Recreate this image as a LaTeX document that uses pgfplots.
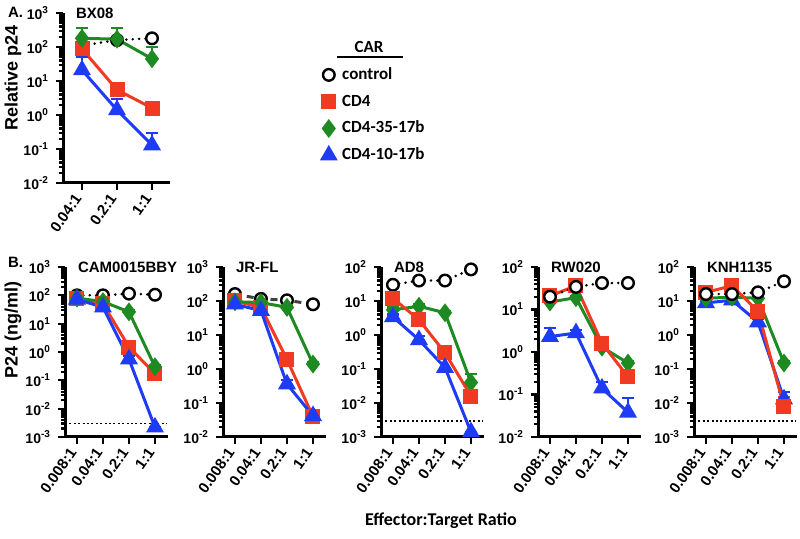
\documentclass[border=0pt]{standalone}
\usepackage{fontspec}
\setmainfont{Liberation Sans}
\newfontfamily\calfont{Carlito}
\usepackage{pgfplots}
\usepackage{pgfplotstable}
\pgfplotsset{compat=1.18}

\definecolor{cred}{RGB}{240,58,34}
\definecolor{cgreen}{RGB}{30,138,34}
\definecolor{cblue}{RGB}{30,60,245}

% columns: ratio index, control, CD4 (+err), CD4-35-17b (+err), CD4-10-17b (+err)
\pgfplotstableread{
x c r re g ge b be
0 110 88 15 180 180 21 29
1 160 5.5 1 170 190 1.4 1.6
2 180 1.6 0.8 45 55 0.13 0.17
}\bxeight
\pgfplotstableread{
x c r re g ge b be
0 100 75 10 80 10 72 10
1 100 50 8 60 8 38 8
2 115 1.5 0.7 26 4 0.56 0.15
3 105 0.17 0.08 0.3 0.05 0.0022 0
}\cam
\pgfplotstableread{
x c r re g ge b be
0 160 100 15 95 10 80 15
1 115 65 10 90 10 52 10
2 105 1.9 0.6 65 8 0.36 0.12
3 80 0.04 0.008 1.4 0.2 0.042 0.005
}\jrfl
\pgfplotstableread{
x c r re g ge b be
0 30 12 3 5.5 1 3.4 0.6
1 40 2.8 1 7 1 0.72 0.2
2 40 0.3 0.05 4.5 0.5 0.11 0.13
3 85 0.016 0.003 0.04 0.03 0.0014 0
}\adeight
\pgfplotstableread{
x c r re g ge b be
0 20 21 3 15 2 2.3 1.4
1 34 36 5 19 2 2.8 0.5
2 42 1.6 0.3 1.3 0.2 0.14 0.06
3 42 0.26 0.05 0.55 0.05 0.038 0.045
}\rw
\pgfplotstableread{
x c r re g ge b be
0 16 18 3 12 1 8.8 1
1 16 28 4 13 1 10.5 1
2 18 5 1 12 1 2.4 0.6
3 38 0.0078 0.007 0.15 0.02 0.013 0.008
}\knh

\newcommand{\lab}{\bfseries\fontsize{7.5}{9}\selectfont}
\newcommand{\tk}{\bfseries\fontsize{7}{8}\selectfont}
\newcommand{\ylab}{\bfseries\fontsize{9}{10}\selectfont}
\newcommand{\legf}{\calfont\bfseries\fontsize{8.5}{10}\selectfont}

\pgfplotsset{
  every axis/.append style={
    scale only axis, height=85pt,
    axis lines=left, axis line style={-, line width=1.5pt},
    tick align=outside, major tick length=3.5pt, minor tick length=2pt,
    tick style={black, line width=1.1pt},
    tick label style={font=\tk},
    x tick label style={rotate=55, anchor=east, font=\lab},
    clip=false,
  },
  eb/.style={/pgfplots/error bars/y dir=plus, /pgfplots/error bars/y explicit,
    /pgfplots/error bars/error bar style={line width=1.1pt, solid},
    /pgfplots/error bars/error mark options={rotate=90, mark size=3pt, line width=1.1pt, solid}},
  ctrl/.style={black, line width=1.4pt, dash pattern=on 0pt off 3.2pt, line cap=round,
    mark=*, mark size=2.9pt, mark options={solid, fill=white, draw=black, line width=1.2pt}},
  cdfour/.style={cred, line width=1.5pt, mark=square*, mark size=3pt, mark options={solid}},
  cdtf/.style={cgreen, line width=1.5pt, mark=diamond*, mark size=3.5pt, mark options={solid}},
  cdten/.style={cblue, line width=1.5pt, mark=triangle*, mark size=3.7pt, mark options={solid}},
  lod/.style={black, line width=0.9pt, dash pattern=on 1pt off 1.2pt},
}

\begin{document}
\begin{tikzpicture}
\path[use as bounding box] (0,0) rectangle (400pt,-269.5pt);

% Panel A: BX08
\begin{axis}[at={(31.5pt,-91.5pt)}, anchor=south west, width=53.5pt,
  ymode=log, log basis y=10,
  ytick={0.01,0.1,1,10,100,1000},
  minor ytick={0.02,0.03,0.04,0.05,0.06,0.07,0.08,0.09,
      0.2,0.3,0.4,0.5,0.6,0.7,0.8,0.9,
      2,3,4,5,6,7,8,9,20,30,40,50,60,70,80,90,
      200,300,400,500,600,700,800,900},
  yticklabel={\pgfmathtruncatemacro\e{round(\tick)}10\textsuperscript{\e}},
  xmin=-0.543, xmax=2.514, xtick={0,1,2}, xticklabels={0.04:1,0.2:1,1:1},
  ymin=0.01, ymax=1000]
\addplot[ctrl] table[x=x, y=c] {\bxeight};
\addplot[cdfour, eb] table[x=x, y=r, y error=re] {\bxeight};
\addplot[cdtf, eb] table[x=x, y=g, y error=ge] {\bxeight};
\addplot[cdten, eb] table[x=x, y=b, y error=be] {\bxeight};
\node[anchor=west, font=\lab, xshift=3pt] at (rel axis cs:0,1) {BX08};
\end{axis}

% legend
\begin{axis}[at={(158pt,-31pt)}, anchor=north west, width=10pt, height=10pt,
  hide axis, xmin=0, xmax=1, ymin=0, ymax=1,
  legend style={draw=none, fill=none, at={(0,1)}, anchor=north west,
    font=\legf, row sep=4.9pt, column sep=3.5pt,
    nodes={inner sep=0pt, text height=6.5pt, text depth=2pt}},
  legend cell align=left]
\addlegendimage{ctrl, only marks}\addlegendentry{control}
\addlegendimage{cdfour, only marks}\addlegendentry{CD4}
\addlegendimage{cdtf, only marks}\addlegendentry{CD4-35-17b}
\addlegendimage{cdten, only marks}\addlegendentry{CD4-10-17b}
\end{axis}

% Panel B: CAM0015BBY
\begin{axis}[at={(32.5pt,-218.5pt)}, anchor=south west, width=51.5pt,
  xmin=-0.46, xmax=3.5, xtick={0,1,2,3}, xticklabels={0.008:1,0.04:1,0.2:1,1:1},
  ymode=log, log basis y=10,
  ytick={0.001,0.01,0.1,1,10,100,1000},
  minor ytick={0.002,0.003,0.004,0.005,0.006,0.007,0.008,0.009,
      0.02,0.03,0.04,0.05,0.06,0.07,0.08,0.09,
      0.2,0.3,0.4,0.5,0.6,0.7,0.8,0.9,
      2,3,4,5,6,7,8,9,20,30,40,50,60,70,80,90,
      200,300,400,500,600,700,800,900},
  yticklabel={\pgfmathtruncatemacro\e{round(\tick)}10\textsuperscript{\e}},
  ymin=0.001, ymax=1000]
\addplot[lod] coordinates {(-0.46,0.003) (3.45,0.003)};
\addplot[ctrl] table[x=x, y=c] {\cam};
\addplot[cdfour, eb] table[x=x, y=r, y error=re] {\cam};
\addplot[cdtf, eb] table[x=x, y=g, y error=ge] {\cam};
\addplot[cdten, eb] table[x=x, y=b, y error=be] {\cam};
\node[anchor=west, font=\lab, xshift=3pt] at (rel axis cs:0,1) {CAM0015BBY};
\end{axis}

% JR-FL
\begin{axis}[at={(111.5pt,-218.5pt)}, anchor=south west, width=51.5pt,
  xmin=-0.46, xmax=3.5, xtick={0,1,2,3}, xticklabels={0.008:1,0.04:1,0.2:1,1:1},
  ymode=log, log basis y=10,
  ytick={0.01,0.1,1,10,100,1000},
  minor ytick={0.02,0.03,0.04,0.05,0.06,0.07,0.08,0.09,
      0.2,0.3,0.4,0.5,0.6,0.7,0.8,0.9,
      2,3,4,5,6,7,8,9,20,30,40,50,60,70,80,90,
      200,300,400,500,600,700,800,900},
  yticklabel={\pgfmathtruncatemacro\e{round(\tick)}10\textsuperscript{\e}},
  ymin=0.01, ymax=1000]
\addplot[ctrl, color=black!75, dash pattern=on 3.5pt off 2.5pt, line cap=butt, line width=1.5pt] table[x=x, y=c] {\jrfl};
\addplot[cdfour, eb] table[x=x, y=r, y error=re] {\jrfl};
\addplot[cdtf, eb] table[x=x, y=g, y error=ge] {\jrfl};
\addplot[cdten, eb] table[x=x, y=b, y error=be] {\jrfl};
\node[anchor=west, font=\lab, xshift=3pt] at (rel axis cs:0,1) {JR-FL};
\end{axis}

% AD8
\begin{axis}[at={(190.5pt,-218.5pt)}, anchor=south west, width=51.5pt,
  xmin=-0.46, xmax=3.5, xtick={0,1,2,3}, xticklabels={0.008:1,0.04:1,0.2:1,1:1},
  ymode=log, log basis y=10,
  ytick={0.001,0.01,0.1,1,10,100},
  minor ytick={0.002,0.003,0.004,0.005,0.006,0.007,0.008,0.009,
      0.02,0.03,0.04,0.05,0.06,0.07,0.08,0.09,
      0.2,0.3,0.4,0.5,0.6,0.7,0.8,0.9,
      2,3,4,5,6,7,8,9,20,30,40,50,60,70,80,90},
  yticklabel={\pgfmathtruncatemacro\e{round(\tick)}10\textsuperscript{\e}},
  ymin=0.001, ymax=100]
\addplot[lod] coordinates {(-0.46,0.003) (3.45,0.003)};
\addplot[ctrl] table[x=x, y=c] {\adeight};
\addplot[cdtf, eb] table[x=x, y=g, y error=ge] {\adeight};
\addplot[cdfour, eb] table[x=x, y=r, y error=re] {\adeight};
\addplot[cdten, eb] table[x=x, y=b, y error=be] {\adeight};
\node[anchor=west, font=\lab, xshift=3pt] at (rel axis cs:0,1) {AD8};
\end{axis}

% RW020
\begin{axis}[at={(269pt,-218.5pt)}, anchor=south west, width=51.5pt,
  xmin=-0.46, xmax=3.5, xtick={0,1,2,3}, xticklabels={0.008:1,0.04:1,0.2:1,1:1},
  ymode=log, log basis y=10,
  ytick={0.01,0.1,1,10,100},
  minor ytick={0.02,0.03,0.04,0.05,0.06,0.07,0.08,0.09,
      0.2,0.3,0.4,0.5,0.6,0.7,0.8,0.9,
      2,3,4,5,6,7,8,9,20,30,40,50,60,70,80,90},
  yticklabel={\pgfmathtruncatemacro\e{round(\tick)}10\textsuperscript{\e}},
  ymin=0.01, ymax=100]
\addplot[cdtf, eb] table[x=x, y=g, y error=ge] {\rw};
\addplot[cdfour, eb] table[x=x, y=r, y error=re] {\rw};
\addplot[cdten, eb] table[x=x, y=b, y error=be] {\rw};
\addplot[ctrl] table[x=x, y=c] {\rw};
\node[anchor=west, font=\lab, xshift=3pt] at (rel axis cs:0,1) {RW020};
\end{axis}

% KNH1135
\begin{axis}[at={(347pt,-218.5pt)}, anchor=south west, width=51.5pt,
  xmin=-0.46, xmax=3.5, xtick={0,1,2,3}, xticklabels={0.008:1,0.04:1,0.2:1,1:1},
  ymode=log, log basis y=10,
  ytick={0.001,0.01,0.1,1,10,100},
  minor ytick={0.002,0.003,0.004,0.005,0.006,0.007,0.008,0.009,
      0.02,0.03,0.04,0.05,0.06,0.07,0.08,0.09,
      0.2,0.3,0.4,0.5,0.6,0.7,0.8,0.9,
      2,3,4,5,6,7,8,9,20,30,40,50,60,70,80,90},
  yticklabel={\pgfmathtruncatemacro\e{round(\tick)}10\textsuperscript{\e}},
  ymin=0.001, ymax=100]
\addplot[lod] coordinates {(-0.46,0.003) (3.45,0.003)};
\addplot[cdten, eb] table[x=x, y=b, y error=be] {\knh};
\addplot[cdtf, eb] table[x=x, y=g, y error=ge] {\knh};
\addplot[cdfour, eb] table[x=x, y=r, y error=re] {\knh};
\addplot[ctrl] table[x=x, y=c] {\knh};
\node[anchor=west, font=\lab, xshift=3pt] at (rel axis cs:0,1) {KNH1135};
\end{axis}

% panel letters, shared labels, legend header
\node[font=\lab, anchor=west] at (0.5pt,-6.3pt) {A.};
\node[font=\lab, anchor=west] at (0.5pt,-131pt) {B.};
\node[font=\ylab, rotate=90] at (6.5pt,-39pt) {Relative p24};
\node[font=\ylab, rotate=90] at (6.5pt,-165pt) {P24 (ng/ml)};
\node[font=\calfont\bfseries\fontsize{9}{10}\selectfont] at (220.5pt,-260.5pt) {Effector:Target Ratio};
\node[font=\legf] at (184.5pt,-23.5pt) {CAR};
\draw[line width=0.6pt] (168.5pt,-28.5pt) -- (201.5pt,-28.5pt);
\end{tikzpicture}
\end{document}
